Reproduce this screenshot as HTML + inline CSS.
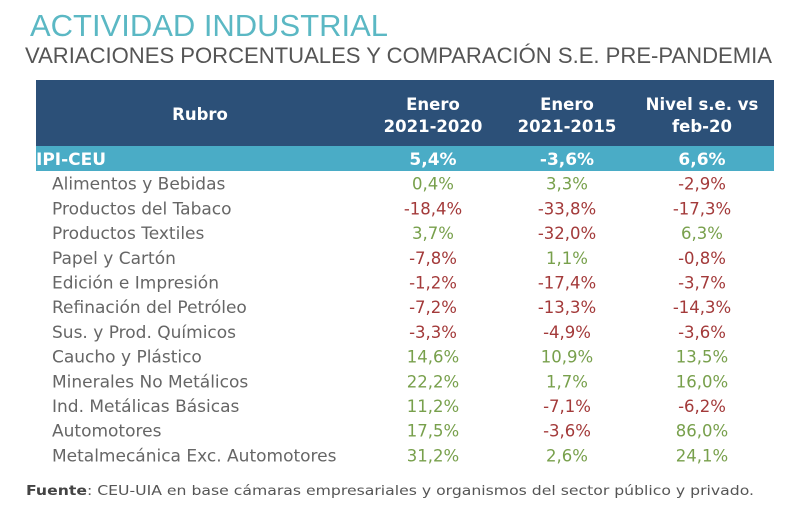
<!DOCTYPE html>
<html><head><meta charset="utf-8"><style>
body{margin:0;background:#fff;}
svg{display:block;}
</style></head><body>
<svg width="800" height="522" viewBox="0 0 800 522" xmlns="http://www.w3.org/2000/svg">
<text x="30" y="36" font-family="Liberation Sans, sans-serif" font-size="31" fill="#5bb8c4" textLength="358" lengthAdjust="spacingAndGlyphs">ACTIVIDAD INDUSTRIAL</text>
<text x="25" y="63" font-family="Liberation Sans, sans-serif" font-size="22" fill="#555" textLength="747" lengthAdjust="spacingAndGlyphs">VARIACIONES PORCENTUALES Y COMPARACIÓN S.E. PRE-PANDEMIA</text>
<rect x="36" y="80" width="738" height="66" fill="#2c5078"/>
<rect x="36" y="146" width="738" height="25" fill="#4aacc6"/>
<g font-family="DejaVu Sans, Verdana, sans-serif" font-weight="bold" font-size="16.5" fill="#fff" text-anchor="middle">
<text x="200" y="120">Rubro</text>
<text x="433" y="110">Enero</text>
<text x="433" y="132">2021-2020</text>
<text x="567" y="110">Enero</text>
<text x="567" y="132">2021-2015</text>
<text x="702" y="110">Nivel s.e. vs</text>
<text x="702" y="132">feb-20</text>
</g>
<g id="rows"></g>
<text x="26" y="495" font-family="DejaVu Sans, Verdana, sans-serif" font-size="13.5" fill="#555" textLength="728" lengthAdjust="spacingAndGlyphs"><tspan font-weight="bold" fill="#444">Fuente</tspan>: CEU-UIA en base cámaras empresariales y organismos del sector público y privado.</text>
</svg>
<script>
const labels=["IPI-CEU","Alimentos y Bebidas","Productos del Tabaco","Productos Textiles","Papel y Cartón","Edición e Impresión","Refinación del Petróleo","Sus. y Prod. Químicos","Caucho y Plástico","Minerales No Metálicos","Ind. Metálicas Básicas","Automotores","Metalmecánica Exc. Automotores"];
const col1=[5.4,0.4,-18.4,3.7,-7.8,-1.2,-7.2,-3.3,14.6,22.2,11.2,17.5,31.2];
const col2=[-3.6,3.3,-33.8,-32.0,1.1,-17.4,-13.3,-4.9,10.9,1.7,-7.1,-3.6,2.6];
const col3=[6.6,-2.9,-17.3,6.3,-0.8,-3.7,-14.3,-3.6,13.5,16.0,-6.2,86.0,24.1];
const NS='http://www.w3.org/2000/svg';
const g=document.getElementById('rows');
const colX=[433,567,702];
function fmt(v){return v.toFixed(1).replace('.',',')+'%';}
function mk(x,y,txt,attrs){const t=document.createElementNS(NS,'text');t.setAttribute('x',x);t.setAttribute('y',y);t.textContent=txt;for(const k in attrs)t.setAttribute(k,attrs[k]);g.appendChild(t);return t;}
labels.forEach((lab,i)=>{
  const y=165+i*24.7;
  const first=i===0;
  const l=mk(first?36:52,y,lab,{'font-family':'DejaVu Sans, Verdana, sans-serif','font-size':first?'17':'17','font-weight':first?'bold':'normal','fill':first?'#fff':'#666'});
  
  
  [col1,col2,col3].forEach((arr,c)=>{
    const v=arr[i];
    const t=mk(colX[c],y,fmt(v),{'font-family':'DejaVu Sans, Verdana, sans-serif','font-size':first?'17':'16.5','font-weight':first?'bold':'normal','text-anchor':'middle','fill':first?'#fff':(v<0?'#a33a3a':'#78a04c')});
    
    
  });
});
</script>
</body></html>
